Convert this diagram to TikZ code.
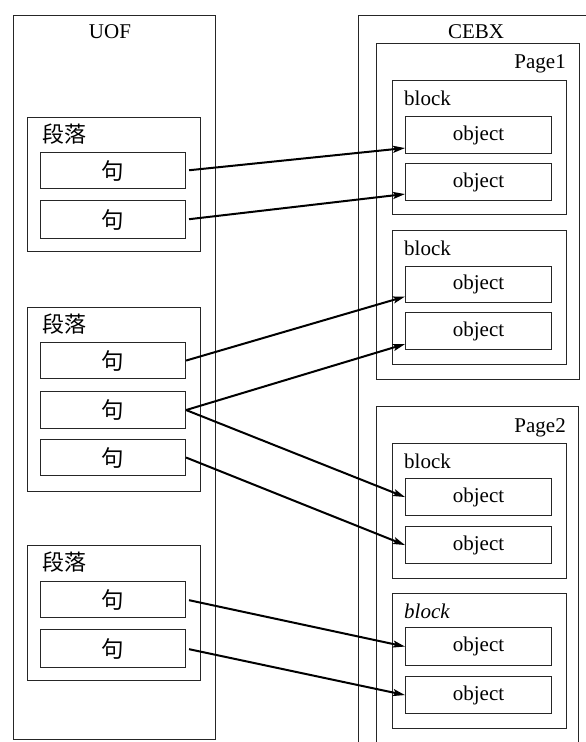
\documentclass[tikz,border=0pt]{standalone}
\usepackage{fontspec}
\setmainfont{Liberation Serif}
\newfontfamily\cjk{Noto Sans CJK SC}
\usetikzlibrary{arrows.meta}

\begin{document}
\begin{tikzpicture}[x=1pt,y=-1pt,
  frame/.style={draw=black!85, line width=1.1pt, inner sep=0pt, anchor=north west, text=black},
  leaf/.style={frame, font=\fontsize{21}{24}\selectfont},
  sent/.style={frame, font=\cjk\fontsize{22.5}{26}\selectfont},
  title/.style={inner sep=0pt, font=\fontsize{21}{24}\selectfont},
  ctitle/.style={inner sep=0pt, anchor=base west, font=\cjk\fontsize{22}{26}\selectfont},
  link/.style={line width=2pt, -{Stealth[length=12pt,width=7pt,inset=2.5pt]}}]

\clip (0,0) rectangle (586,742);
\fill[white] (0,0) rectangle (586,742);

% ---------------- UOF side ----------------
\node[frame, minimum width=202pt, minimum height=724pt] (uof) at (13,15) {};
\node[title, anchor=base] (uofT) at (110,38) {UOF};

\node[frame, minimum width=173pt, minimum height=134pt] (p1) at (27,117) {};
\node[ctitle] (p1T) at (42,142) {段落};
\node[sent, minimum width=145pt, minimum height=36pt] (s11) at (40,152) {句};
\node[sent, minimum width=145pt, minimum height=38pt] (s12) at (40,200) {句};

\node[frame, minimum width=173pt, minimum height=184pt] (p2) at (27,307) {};
\node[ctitle] (p2T) at (42,332) {段落};
\node[sent, minimum width=145pt, minimum height=36pt] (s21) at (40,342) {句};
\node[sent, minimum width=145pt, minimum height=37pt] (s22) at (40,391) {句};
\node[sent, minimum width=145pt, minimum height=36pt] (s23) at (40,439) {句};

\node[frame, minimum width=173pt, minimum height=135pt] (p3) at (27,545) {};
\node[ctitle] (p3T) at (42,570) {段落};
\node[sent, minimum width=145pt, minimum height=36pt] (s31) at (40,581) {句};
\node[sent, minimum width=145pt, minimum height=38pt] (s32) at (40,629) {句};

% ---------------- CEBX side ----------------
\node[frame, minimum width=250pt, minimum height=760pt] (cebx) at (358,15) {};
\node[title, anchor=base] (cebxT) at (476,38) {CEBX};

\node[frame, minimum width=203pt, minimum height=336pt] (pg1) at (376,43) {};
\node[title, anchor=base east] (pg1T) at (566,68) {Page1};

\node[frame, minimum width=174pt, minimum height=134pt] (b1) at (392,80) {};
\node[title, anchor=base west] (b1T) at (404,105) {block};
\node[leaf, minimum width=146pt, minimum height=37pt] (o11) at (405,116) {object};
\node[leaf, minimum width=146pt, minimum height=37pt] (o12) at (405,163) {object};

\node[frame, minimum width=174pt, minimum height=134pt] (b2) at (392,230) {};
\node[title, anchor=base west] (b2T) at (404,255) {block};
\node[leaf, minimum width=146pt, minimum height=36pt] (o21) at (405,266) {object};
\node[leaf, minimum width=146pt, minimum height=37pt] (o22) at (405,312) {object};

\node[frame, minimum width=202pt, minimum height=360pt] (pg2) at (376,406) {};
\node[title, anchor=base east] (pg2T) at (566,432) {Page2};

\node[frame, minimum width=174pt, minimum height=135pt] (b3) at (392,443) {};
\node[title, anchor=base west] (b3T) at (404,468) {block};
\node[leaf, minimum width=146pt, minimum height=37pt] (o31) at (405,478) {object};
\node[leaf, minimum width=146pt, minimum height=37pt] (o32) at (405,526) {object};

\node[frame, minimum width=174pt, minimum height=135pt] (b4) at (392,593) {};
\node[title, anchor=base west] (b4T) at (404,618) {\textit{block}};
\node[leaf, minimum width=146pt, minimum height=38pt] (o41) at (405,627) {object};
\node[leaf, minimum width=146pt, minimum height=37pt] (o42) at (405,676) {object};

% ---------------- mappings ----------------
\draw[link, shorten <=3pt] (s11.east) -- ([yshift=-13pt]o11.west);
\draw[link, shorten <=3pt] (s12.east) -- ([yshift=-12pt]o12.west);
\draw[link] (s21.east) -- ([yshift=-12pt]o21.west);
\draw[link] (s22.east) -- ([yshift=-13pt]o22.west);
\draw[link] (s22.east) -- (o31.west);
\draw[link] (s23.east) -- (o32.west);
\draw[link, shorten <=3pt] (s31.east) -- (o41.west);
\draw[link, shorten <=3pt] (s32.east) -- (o42.west);

\end{tikzpicture}
\end{document}
